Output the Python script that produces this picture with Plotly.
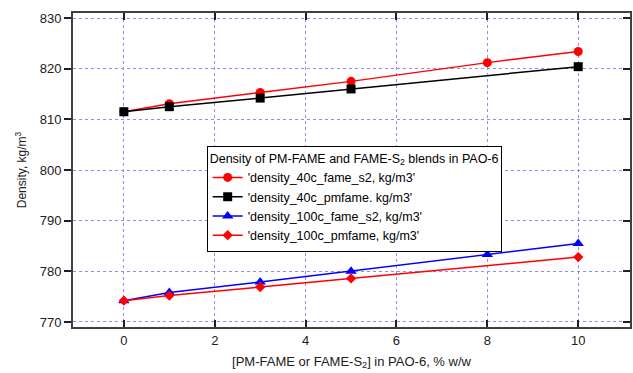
import plotly.graph_objects as go

# Blend concentration, % w/w
x_40c_fame_s2 = [0, 1, 3, 5, 8, 10]
y_40c_fame_s2 = [811.5, 813.1, 815.3, 817.5, 821.2, 823.4]

x_40c_pmfame = [0, 1, 3, 5, 10]
y_40c_pmfame = [811.5, 812.5, 814.2, 816.0, 820.4]

x_100c_fame_s2 = [0, 1, 3, 5, 8, 10]
y_100c_fame_s2 = [774.2, 775.8, 777.9, 780.0, 783.3, 785.5]

x_100c_pmfame = [0, 1, 3, 5, 10]
y_100c_pmfame = [774.2, 775.2, 776.9, 778.6, 782.8]

x_ticks = [0, 2, 4, 6, 8, 10]
y_ticks = [770, 780, 790, 800, 810, 820, 830]

FONT = "Liberation Sans, Arial, sans-serif"

series = [
    ("'density_40c_fame_s2, kg/m3'", x_40c_fame_s2, y_40c_fame_s2, "#ff0000", "circle", 9),
    ("'density_40c_pmfame. kg/m3'", x_40c_pmfame, y_40c_pmfame, "#000000", "square", 9),
    ("'density_100c_fame_s2, kg/m3'", x_100c_fame_s2, y_100c_fame_s2, "#0000ff", "triangle-up", 10),
    ("'density_100c_pmfame, kg/m3'", x_100c_pmfame, y_100c_pmfame, "#ff0000", "diamond", 8),
]

fig = go.Figure()
for name, xs, ys, color, symbol, size in series:
    fig.add_trace(go.Scatter(
        x=xs, y=ys, name=name, mode="lines+markers",
        line=dict(color=color, width=1.5),
        marker=dict(symbol=symbol, size=size, color=color),
    ))

# invisible trace bound to the right-hand axis so its inside ticks are drawn
fig.add_trace(go.Scatter(x=[None], y=[None], yaxis="y2", showlegend=False, hoverinfo="skip"))

y_range = [769.0, 831.0]
axis_common = dict(
    showline=True, linecolor="#404040", linewidth=2,
    showgrid=True, gridcolor="#8c8cff", griddash="dot", gridwidth=1,
    zeroline=False, ticklen=7, tickwidth=1.5, tickcolor="#202020",
    tickfont=dict(family=FONT, size=13, color="#202020"),
)

fig.update_layout(
    width=633, height=373,
    margin=dict(l=73, r=1, t=13, b=46),
    paper_bgcolor="white", plot_bgcolor="white",
    font=dict(family=FONT, color="#202020"),
    xaxis=dict(
        axis_common, range=[-1.12, 11.14], tickvals=x_ticks, ticks="inside", mirror="ticks",
        title=dict(text="[PM-FAME or FAME-S<sub>2</sub>] in PAO-6, % w/w",
                   font=dict(family=FONT, size=13), standoff=10),
    ),
    yaxis=dict(
        axis_common, range=y_range, tickvals=y_ticks, ticks="outside", mirror=True,
        title=dict(text="Density, kg/m<sup>3</sup>", font=dict(family=FONT, size=12), standoff=10),
    ),
    yaxis2=dict(
        overlaying="y", side="right", range=y_range, tickvals=y_ticks, ticks="inside",
        ticklen=7, tickwidth=1.5, tickcolor="#202020", showticklabels=False,
        showgrid=False, zeroline=False, showline=False,
    ),
    legend=dict(
        x=0.24, y=0.578, xanchor="left", yanchor="top",
        bgcolor="white", bordercolor="#000000", borderwidth=1,
        font=dict(family=FONT, size=12.5, color="#000000"),
        title=dict(text="Density of PM-FAME and FAME-S<sub>2</sub> blends in PAO-6",
                   font=dict(family=FONT, size=12.5, color="#000000")),
        tracegroupgap=0, itemwidth=30,
    ),
)

fig.write_html("out.html")
